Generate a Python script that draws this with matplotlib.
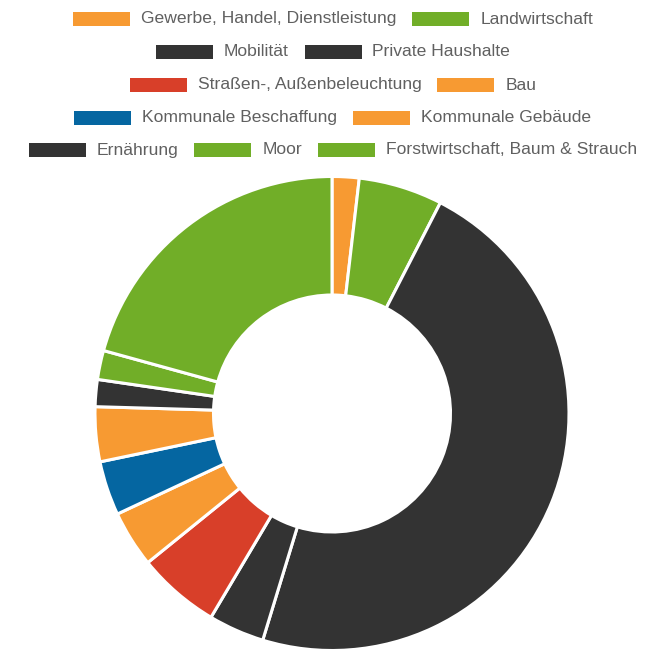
import matplotlib
matplotlib.use("Agg")
from matplotlib import pyplot as plt
from matplotlib.patches import Rectangle

# sectors, clockwise from 12 o'clock (share in %)
labels = ["Gewerbe, Handel, Dienstleistung", "Landwirtschaft", "Mobilität",
          "Private Haushalte", "Straßen-, Außenbeleuchtung", "Bau",
          "Kommunale Beschaffung", "Kommunale Gebäude", "Ernährung", "Moor",
          "Forstwirtschaft, Baum & Strauch"]
shares = [1.84, 5.72, 47.16, 3.81, 5.64, 3.86, 3.70, 3.73, 1.84, 1.98, 20.72]

ORANGE = "#f79a32"
GREEN = "#71ae28"
DARK = "#333333"
RED = "#d83f29"
BLUE = "#0566a1"
colors = [ORANGE, GREEN, DARK, DARK, RED, ORANGE, BLUE, ORANGE, DARK, GREEN, GREEN]

# legend rows (indices into labels)
legend_rows = [[0, 1], [2, 3], [4, 5], [6, 7], [8, 9, 10]]

W, H = 657, 649
fig = plt.figure(figsize=(W / 100, H / 100), dpi=100)
fig.patch.set_facecolor("white")

# donut
cx, cy, r = 332, 413.5, 237
ax = fig.add_axes([(cx - r) / W, (H - cy - r) / H, 2 * r / W, 2 * r / H])
ax.pie(shares, colors=colors, startangle=90, counterclock=False, radius=1,
       wedgeprops=dict(width=0.5, edgecolor="white", linewidth=2.2))
ax.set_xlim(-1, 1)
ax.set_ylim(-1, 1)
ax.set_aspect("equal")
ax.axis("off")

# legend drawn by hand so rows can hold different item counts
fs = 12.6
patch_w, patch_h, gap_txt, gap_item = 57, 14, 11, 16
row_y = [19, 52, 85, 117.5, 150]
center_x = 333
renderer = fig.canvas.get_renderer()

for row, y in zip(legend_rows, row_y):
    texts = []
    for i in row:
        t = fig.text(0, 0, labels[i], fontsize=fs, family="Liberation Sans",
                     color="#606060", va="center", ha="left")
        texts.append(t)
    widths = [t.get_window_extent(renderer).width for t in texts]
    total = sum(patch_w + gap_txt + w for w in widths) + gap_item * (len(row) - 1)
    x = center_x - total / 2
    for i, t, w in zip(row, texts, widths):
        fig.patches.append(Rectangle((x / W, (H - y - patch_h / 2) / H),
                                     patch_w / W, patch_h / H,
                                     transform=fig.transFigure,
                                     facecolor=colors[i], edgecolor="none"))
        t.set_position(((x + patch_w + gap_txt) / W, (H - y) / H))
        x += patch_w + gap_txt + w + gap_item

fig.savefig("out.png", dpi=100, facecolor="white")
